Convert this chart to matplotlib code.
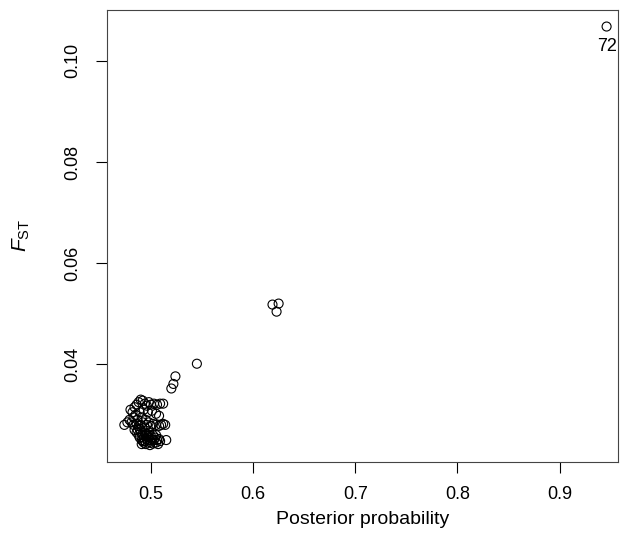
import numpy as np
import matplotlib
matplotlib.use('Agg')
import matplotlib.pyplot as plt

plt.rcParams['font.family'] = 'Liberation Sans'
plt.rcParams['mathtext.fontset'] = 'custom'
plt.rcParams['mathtext.rm'] = 'Liberation Sans'
plt.rcParams['mathtext.it'] = 'Liberation Sans:italic'

# posterior probability (x) and Fst (y) per locus
post_upper = [0.480, 0.482, 0.484, 0.486, 0.488, 0.490, 0.492, 0.494, 0.496, 0.498, 0.500, 0.503, 0.506,
              0.509, 0.512, 0.485, 0.489, 0.493, 0.497, 0.501, 0.505, 0.508, 0.483, 0.487, 0.491, 0.495]
fst_upper = [0.0310, 0.0305, 0.0315, 0.0320, 0.0325, 0.0330, 0.0328, 0.0322, 0.0318, 0.0325, 0.0320, 0.0322, 0.0320,
             0.0322, 0.0322, 0.0300, 0.0305, 0.0310, 0.0305, 0.0308, 0.0302, 0.0298, 0.0295, 0.0290, 0.0295, 0.0290]

post_mid = [0.474, 0.477, 0.479, 0.481, 0.483, 0.486, 0.488, 0.490, 0.492, 0.494, 0.496, 0.498, 0.500, 0.502,
            0.505, 0.508, 0.510, 0.512, 0.514, 0.484, 0.487, 0.489]
fst_mid = [0.0280, 0.0285, 0.0290, 0.0285, 0.0280, 0.0282, 0.0278, 0.0280, 0.0285, 0.0275, 0.0280, 0.0285, 0.0278, 0.0282,
           0.0280, 0.0278, 0.0280, 0.0282, 0.0280, 0.0270, 0.0270, 0.0272]

post_low = [0.486, 0.488, 0.489, 0.490, 0.491, 0.492, 0.493, 0.494, 0.494, 0.495, 0.496, 0.497, 0.497, 0.498,
            0.499, 0.500, 0.500, 0.501, 0.502, 0.502, 0.503, 0.504, 0.505, 0.505, 0.506, 0.507, 0.508, 0.509,
            0.491, 0.493, 0.495, 0.499, 0.496, 0.492, 0.498, 0.515]
fst_low = [0.0265, 0.0260, 0.0255, 0.0265, 0.0250, 0.0260, 0.0255, 0.0248, 0.0265, 0.0260, 0.0252, 0.0258, 0.0245, 0.0265,
           0.0250, 0.0258, 0.0245, 0.0252, 0.0260, 0.0243, 0.0250, 0.0255, 0.0245, 0.0260, 0.0250, 0.0242, 0.0252, 0.0248,
           0.0242, 0.0245, 0.0242, 0.0240, 0.0262, 0.0248, 0.0255, 0.0250]

post_tail = [0.520, 0.522, 0.524, 0.545, 0.619, 0.625, 0.623, 0.946]
fst_tail = [0.0352, 0.0361, 0.0376, 0.0401, 0.0518, 0.0520, 0.0504, 0.1068]

outlier_label = '72'

post = np.array(post_upper + post_mid + post_low + post_tail)
fst = np.array(fst_upper + fst_mid + fst_low + fst_tail)

fig = plt.figure(figsize=(6.23, 5.44), dpi=100)
ax = fig.add_axes([0.1717, 0.151, 0.820, 0.831])

ax.scatter(post, fst, s=42, facecolors='none', edgecolors='black', linewidths=0.8)
ax.margins(y=0.04)
ax.set_xlim(0.457, 0.957)

top = np.argmax(fst)
ax.annotate(outlier_label, (post[top], fst[top]), xytext=(0, -8), textcoords='offset points',
            ha='center', va='top', fontsize=13)

ax.set_xticks([0.5, 0.6, 0.7, 0.8, 0.9])
ax.set_xticklabels(['0.5', '0.6', '0.7', '0.8', '0.9'])
ax.set_yticks([0.04, 0.06, 0.08, 0.10])
ax.set_yticklabels(['0.04', '0.06', '0.08', '0.10'], rotation=90, va='center')

for sp in ax.spines.values():
    sp.set_linewidth(0.8)
    sp.set_color('#444444')
ax.tick_params(length=8, width=0.8, labelsize=13)
ax.tick_params(axis='x', pad=9.5)
ax.tick_params(axis='y', pad=10.5)

ax.set_xlabel('Posterior probability', fontsize=14, labelpad=6)
ax.set_ylabel(r'$F_{\mathrm{ST}}$', fontsize=15, labelpad=23)

plt.savefig('out.png', dpi=100)
